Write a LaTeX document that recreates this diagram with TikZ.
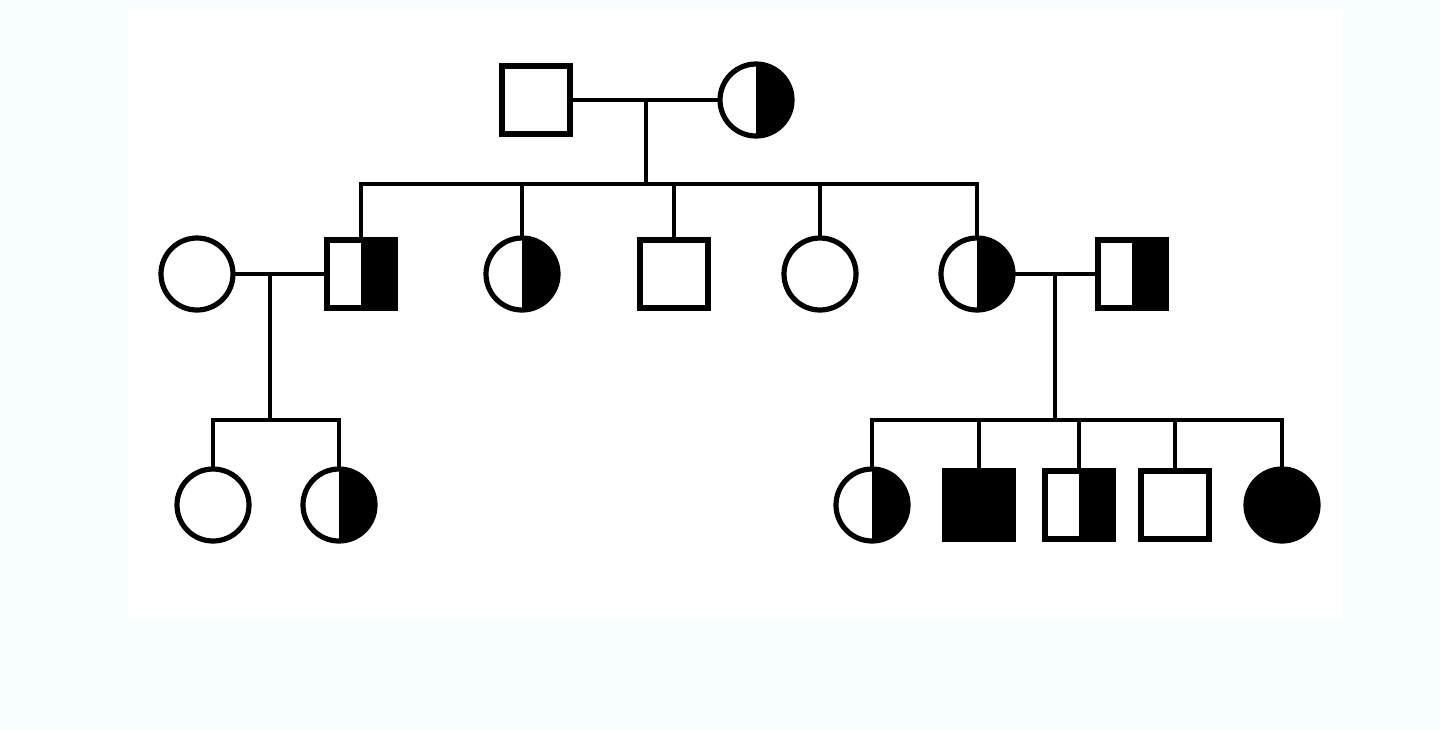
\documentclass[tikz,border=0pt]{standalone}
\begin{document}
\begin{tikzpicture}[x=0.5pt,y=-0.5pt,
  base/.style={draw=black,line width=2.6pt,fill=white,inner sep=0pt,outer sep=0pt},
  male/.style={base,rectangle,minimum size=34pt},
  female/.style={base,circle,minimum size=36pt},
  carrier/.style={path picture={\fill[black] (path picture bounding box.north) rectangle (path picture bounding box.south east);}},
  affected/.style={fill=black},
  link/.style={line width=2.4pt,black}]
\definecolor{outerbg}{HTML}{F8FEFF}
\fill[outerbg] (0,0) rectangle (1440,730);
\fill[white] (128,10) rectangle (1343,620);
\useasboundingbox (0,0) rectangle (1440,730);
% generation I
\node[male] (i1) at (536,100) {};
\node[female,carrier] (i2) at (756,100) {};
% generation II
\node[female] (ii1) at (197,274) {};
\node[male,carrier] (ii2) at (361,274) {};
\node[female,carrier] (ii3) at (522,274) {};
\node[male] (ii4) at (674,274) {};
\node[female] (ii5) at (820,274) {};
\node[female,carrier] (ii6) at (977,274) {};
\node[male,carrier] (ii7) at (1132,274) {};
% generation III
\node[female] (iii1) at (213,505) {};
\node[female,carrier] (iii2) at (339,505) {};
\node[female,carrier] (iii3) at (872,505) {};
\node[male,affected] (iii4) at (979,505) {};
\node[male,carrier] (iii5) at (1079,505) {};
\node[male] (iii6) at (1175,505) {};
\node[female,affected] (iii7) at (1282,505) {};
% coordinates
\coordinate (m1) at (646,100);
\coordinate (s1) at (646,184);
\coordinate (m2) at (270,274);
\coordinate (s2) at (270,420);
\coordinate (m3) at (1055,274);
\coordinate (s3) at (1055,420);
% marriages
\draw[link] (i1.east) -- (i2.west);
\draw[link] (ii1.east) -- (ii2.west);
\draw[link] (ii6.east) -- (ii7.west);
% descent
\draw[link] (m1) -- (s1);
\draw[link] (m2) -- (s2);
\draw[link] (m3) -- (s3);
% sibships
\foreach \c in {ii2,ii3,ii4,ii5,ii6} \draw[link] (s1) -| (\c.north);
\foreach \c in {iii1,iii2} \draw[link] (s2) -| (\c.north);
\foreach \c in {iii3,iii4,iii5,iii6,iii7} \draw[link] (s3) -| (\c.north);
\end{tikzpicture}
\end{document}
